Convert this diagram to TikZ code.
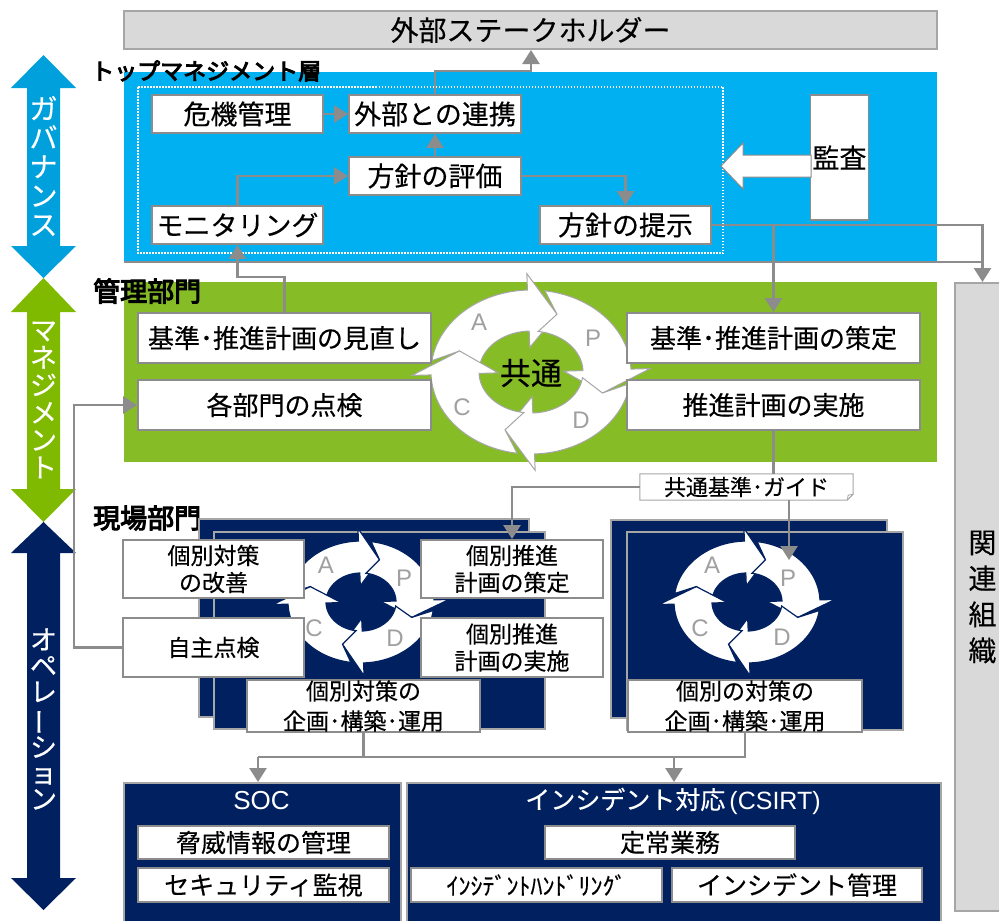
\documentclass[tikz,border=0pt]{standalone}
\usepackage{fontspec}
\setmainfont{Noto Sans CJK JP}[FakeBold=0.35,BoldFont={Noto Sans CJK JP},BoldFeatures={FakeBold=4}]
\newfontfamily\lat{Liberation Sans}
\usepackage{graphicx}
\usetikzlibrary{arrows.meta,calc}
\definecolor{cgray}{HTML}{8C8C8C}
\definecolor{lgray}{HTML}{A6A6A6}
\definecolor{pgray}{HTML}{D9D9D9}
\definecolor{cyanbox}{HTML}{00B0F0}
\definecolor{cyanarr}{HTML}{00A0DC}
\definecolor{greenbox}{HTML}{86BC25}
\definecolor{greenarr}{HTML}{7FBA00}
\definecolor{navy}{HTML}{002060}
\definecolor{letgray}{HTML}{A0A0A0}

\newcommand{\cycsetup}[6]{\def\ccx{#1}\def\ccy{#2}\def\crxi{#3}\def\cryi{#4}\def\crxo{#5}\def\cryo{#6}}
\newcommand{\cycarrow}[2]{%
 \filldraw[#2] plot[domain=0:1,samples=30] ({\ccx+\crxo*cos(#1+102-80*\x)},{\ccy-\cryo*sin(#1+102-80*\x)})
 -- ({\ccx+(\crxi+1.4*(\crxo-\crxi))*cos(#1+22)},{\ccy-(\cryi+1.4*(\cryo-\cryi))*sin(#1+22)})
 -- ({\ccx+(\crxi+0.5*(\crxo-\crxi))*cos(#1)},{\ccy-(\cryi+0.5*(\cryo-\cryi))*sin(#1)})
 -- ({\ccx+(\crxi-0.4*(\crxo-\crxi))*cos(#1+22)},{\ccy-(\cryi-0.4*(\cryo-\cryi))*sin(#1+22)})
 -- plot[domain=0:1,samples=30] ({\ccx+\crxi*cos(#1+22+80*\x)},{\ccy-\cryi*sin(#1+22+80*\x)})
 -- ({\ccx+(\crxi+0.5*(\crxo-\crxi))*cos(#1+90)},{\ccy-(\cryi+0.5*(\cryo-\cryi))*sin(#1+90)})
 -- cycle;}
\newcommand{\vbar}{\rotatebox[origin=c]{90}{ー}}

\begin{document}
\begin{tikzpicture}[x=1pt,y=-1pt,
 wbox/.style={draw=cgray,line width=1.8pt,fill=white,inner sep=0pt,align=center,font=\fontsize{27}{30}\selectfont},
 gbox/.style={wbox,minimum width=293pt,minimum height=50pt,font=\fontsize{26}{30}\selectfont},
 sbox/.style={wbox,font=\fontsize{23}{27}\selectfont},
 bbox/.style={wbox,minimum width=251pt,font=\fontsize{25}{28}\selectfont},
 conn/.style={draw=cgray,line width=2.6pt,-{Triangle[length=14pt,width=17pt]}},
 gline/.style={draw=cgray,line width=2.6pt},
 blab/.style={font=\bfseries\fontsize{27}{30}\selectfont,anchor=west,inner sep=0pt},
 vlab/.style={text=white,align=center,inner sep=0pt},
 cyclet/.style={text=letgray,font=\lat\fontsize{24}{26}\selectfont,inner sep=0pt},
 navybox/.style={fill=navy,draw=lgray,line width=1.5pt},
 garr/.style={fill=white,draw=lgray,line width=1pt},
 narr/.style={fill=white,draw=navy,line width=1.2pt}]
\useasboundingbox (0,0) rectangle (999,921);

% left vertical arrows
\fill[cyanarr] (43.5,55) -- (76,88) -- (60,88) -- (60,246) -- (76,246) -- (43.5,278) -- (11,246) -- (27,246) -- (27,88) -- (11,88) -- cycle;
\fill[greenarr] (43.5,278) -- (76,312) -- (60,312) -- (60,489) -- (76,489) -- (43.5,522) -- (11,489) -- (27,489) -- (27,312) -- (11,312) -- cycle;
\fill[navy] (43.5,522) -- (76,553) -- (60,553) -- (60,878) -- (76,878) -- (43.5,910) -- (11,878) -- (27,878) -- (27,553) -- (11,553) -- cycle;
\node[vlab,font=\fontsize{28}{29}\selectfont] (gov) at (43.5,166) {ガ\\バ\\ナ\\ン\\ス};
\node[vlab,font=\fontsize{27}{27.5}\selectfont] (mgmt) at (43.5,400) {マ\\ネ\\ジ\\メ\\ン\\ト};
\node[vlab,font=\fontsize{27}{26}\selectfont] (oper) at (43.5,719) {オ\\ペ\\レ\\\vbar\\シ\\ョ\\ン};

% stakeholders
\node[wbox,fill=pgray,draw=lgray,line width=2pt,minimum width=813pt,minimum height=38pt,font=\fontsize{28}{32}\selectfont] (stake) at (530.5,30) {外部ステークホルダー};

% top management
\fill[cyanbox] (124,72) rectangle (937,262);
\draw[white,line width=1.5pt,dash pattern=on 1.5pt off 1.5pt] (138,87) rectangle (723,253);
\node[blab,font=\bfseries\fontsize{23}{26}\selectfont] (toplab) at (91,71) {トップマネジメント層};
\node[wbox,minimum width=171pt,minimum height=38pt] (kiki) at (237.5,114) {危機管理};
\node[wbox,minimum width=172pt,minimum height=38pt] (renkei) at (435,114) {外部との連携};
\node[wbox,minimum width=172pt,minimum height=38pt] (hyoka) at (435,176) {方針の評価};
\node[wbox,minimum width=171pt,minimum height=38pt] (moni) at (237.5,225) {モニタリング};
\node[wbox,minimum width=171pt,minimum height=38pt] (teiji) at (625.5,225) {方針の提示};
\node[wbox,minimum width=58pt,minimum height=125pt] (kansa) at (839.5,157.5) {監査};
\filldraw[fill=white,draw=cgray,line width=1pt] (811,155) -- (743,155) -- (743,143) -- (721,166) -- (743,189) -- (743,177) -- (811,177) -- cycle;

% related organisations
\node[fill=pgray,draw=lgray,line width=2pt,minimum width=55pt,minimum height=628pt,inner sep=0pt,align=center,font=\fontsize{28}{36}\selectfont] (kanren) at (982.5,597) {関\\連\\組\\織};

% management section
\fill[greenbox] (124,282) rectangle (937,462);
\cycsetup{531}{372}{52}{41}{100}{82}
\cycarrow{70}{garr}
\cycarrow{-20}{garr}
\cycarrow{-110}{garr}
\cycarrow{160}{garr}
\node[cyclet] (gA) at (479,322) {A};
\node[cyclet] (gP) at (593,338) {P};
\node[cyclet] (gC) at (462,407) {C};
\node[cyclet] (gD) at (581,420) {D};
\node[font=\fontsize{31}{34}\selectfont,inner sep=0pt] (kyotsu) at (531,373) {共通};
\node[blab] (kanrilab) at (93,291) {管理部門};
\node[gbox] (minaoshi) at (284.5,338) {基準･推進計画の見直し};
\node[gbox] (tenken) at (284.5,405) {各部門の点検};
\node[gbox] (sakutei) at (773.5,338) {基準･推進計画の策定};
\node[gbox] (jisshi) at (773.5,405) {推進計画の実施};

% field section
\node[blab] (genbalab) at (93,518) {現場部門};
\filldraw[navybox] (199,519) rectangle (529,717);
\filldraw[navybox] (214,532) rectangle (545,729);
\cycsetup{361}{602}{35}{29}{73}{61}
\cycarrow{70}{narr}
\cycarrow{-20}{narr}
\cycarrow{-110}{narr}
\cycarrow{160}{narr}
\node[cyclet] (lA) at (326,565) {A};
\node[cyclet] (lP) at (404,578) {P};
\node[cyclet] (lC) at (314,628) {C};
\node[cyclet] (lD) at (395,638) {D};

\filldraw[navybox] (611,520) rectangle (887,718);
\filldraw[navybox] (627,532) rectangle (903,730);
\cycsetup{747}{602}{35}{29}{73}{61}
\cycarrow{70}{narr}
\cycarrow{-20}{narr}
\cycarrow{-110}{narr}
\cycarrow{160}{narr}
\node[cyclet] (rA) at (712,565) {A};
\node[cyclet] (rP) at (788,578) {P};
\node[cyclet] (rC) at (700,628) {C};
\node[cyclet] (rD) at (782,637) {D};
\coordinate (rp) at (789,560);

\node[sbox,minimum width=181pt,minimum height=58pt] (kaizen) at (213.5,569) {個別対策\\の改善};
\node[sbox,minimum width=181pt,minimum height=59pt] (jishu) at (213.5,647.5) {自主点検};
\node[sbox,minimum width=182pt,minimum height=58pt] (ksakutei) at (512,569) {個別推進\\計画の策定};
\node[sbox,minimum width=182pt,minimum height=59pt] (kjisshi) at (512,647.5) {個別推進\\計画の実施};
\node[sbox,minimum width=233pt,minimum height=52pt,font=\fontsize{23}{30}\selectfont] (kikaku1) at (363.5,706) {個別対策の\\企画･構築･運用};
\node[sbox,minimum width=234pt,minimum height=52pt,font=\fontsize{23}{30}\selectfont] (kikaku2) at (745,706) {個別の対策の\\企画･構築･運用};

% bottom
\node[navybox,line width=2pt,minimum width=277pt,minimum height=148pt,anchor=north west,inner sep=0pt] (soc) at (123,782) {};
\node[navybox,line width=2pt,minimum width=534pt,minimum height=148pt,anchor=north west,inner sep=0pt] (csirt) at (406,782) {};
\node[text=white,font=\lat\fontsize{26}{28}\selectfont,inner sep=0pt] (soct) at (261.5,801) {SOC};
\node[text=white,font=\fontsize{25}{28}\selectfont,inner sep=0pt] (csirtt) at (673,801) {インシデント対応{\lat\,(CSIRT)}};
\node[bbox,minimum height=33pt] (kyoui) at (263.5,842.5) {脅威情報の管理};
\node[bbox,minimum height=34pt] (kanshi) at (263.5,885) {セキュリティ監視};
\node[bbox,minimum width=250pt,minimum height=33pt] (teijo) at (670,842.5) {定常業務};
\node[bbox,minimum height=34pt,font=\fontsize{24}{28}\selectfont] (handling) at (536.5,885) {ｲﾝｼﾃﾞﾝﾄﾊﾝﾄﾞﾘﾝｸﾞ};
\node[bbox,minimum width=250pt,minimum height=34pt] (ikanri) at (797,885) {インシデント管理};

% connectors
\draw[conn] (kiki.east) -- (renkei.west);
\draw[conn] (hyoka.north) -- (renkei.south);
\draw[conn] (renkei.north) -- ++(0,-23) -| ([xshift=0.5pt]stake.south);
\draw[conn] (moni.north) |- (hyoka.west);
\draw[conn] (hyoka.east) -| (teiji.north);
\draw[gline] (124,262) -- (982.5,262);
\draw[conn] (teiji.east) -| (kanren.north);
\draw[conn] (teiji.east -| sakutei.north) -- (sakutei.north);
\draw[conn] (minaoshi.north) -- ++(0,-35) -| (moni.south);
\draw[conn] (jishu.west) -- ++(-48,0) |- (tenken.west);

\node[fill=white,inner sep=0pt,minimum width=213pt,minimum height=26pt,font=\fontsize{22}{24}\selectfont] (guide) at (746.5,487) {共通基準･ガイド};
\draw[lgray,line width=1pt] (guide.south west) -- (guide.north west) -- (guide.north east) -- ($(guide.south east)+(0,-6)$) -- ($(guide.south east)+(-6,0)$) -- cycle;
\draw[lgray,line width=0.8pt] ($(guide.south east)+(-6,0)$) -- ($(guide.south east)+(-5,-5)$) -- ($(guide.south east)+(0,-6)$);
\draw[gline] (jisshi.south) -- (jisshi.south |- guide.north);
\draw[conn] (guide.west) -| (ksakutei.north);
\draw[conn] (guide.south -| rp) -- (rp);

\coordinate (bj) at (258,757);
\draw[gline] (kikaku1.south) -- (kikaku1.south |- bj);
\draw[gline] (kikaku2.south) |- (bj);
\draw[conn] (bj) -- (bj |- soc.north);
\draw[conn] (csirt.north |- bj) -- (csirt.north);
\end{tikzpicture}
\end{document}
